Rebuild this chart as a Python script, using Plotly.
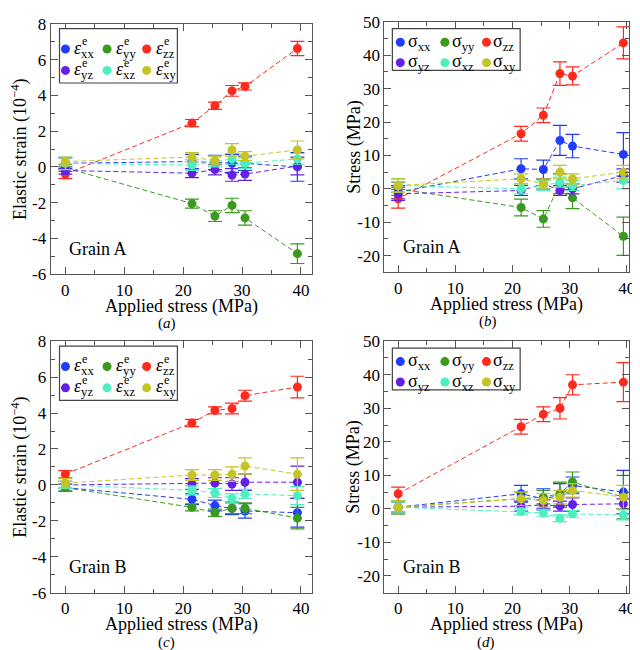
import plotly.graph_objects as go

# ---------------- data ----------------
applied = [0, 21.5, 25.4, 28.3, 30.5, 39.4]
components = ["xx", "yy", "zz", "yz", "xz", "xy"]
colors = {"xx": "#1f3cff", "yy": "#3a9a1e", "zz": "#ff2a1e",
          "yz": "#6420e6", "xz": "#4cf0c0", "xy": "#c4c426"}

# Grain A elastic strain (1e-4)
strainA = {
    "xx": [0.2, 0.3, 0.25, 0.2, 0.2, 0.0],
    "yy": [-0.05, -2.05, -2.75, -2.15, -2.85, -4.85],
    "zz": [-0.4, 2.45, 3.42, 4.25, 4.5, 6.62],
    "yz": [-0.2, -0.35, -0.15, -0.45, -0.4, 0.05],
    "xz": [0.2, 0.1, 0.3, 0.45, 0.2, 0.45],
    "xy": [0.3, 0.55, 0.35, 0.95, 0.6, 0.95],
}
strainA_err = {
    "xx": [0.3, 0.4, 0.4, 0.5, 0.4, 0.8],
    "yy": [0.2, 0.25, 0.3, 0.4, 0.4, 0.55],
    "zz": [0.25, 0.2, 0.2, 0.3, 0.2, 0.4],
    "yz": [0.2, 0.25, 0.3, 0.35, 0.35, 0.5],
    "xz": [0.35, 0.3, 0.3, 0.3, 0.3, 0.3],
    "xy": [0.25, 0.25, 0.25, 0.35, 0.25, 0.5],
}
# Grain A stress (MPa)
stressA = {
    "xx": [-1.0, 6.0, 5.8, 14.5, 12.8, 10.3],
    "yy": [0.0, -5.6, -9.0, 1.5, -2.7, -14.2],
    "zz": [-3.0, 16.5, 22.0, 34.5, 33.8, 43.7],
    "yz": [-1.5, -0.5, 1.5, -0.5, 0.0, 4.0],
    "xz": [1.0, 0.0, 1.0, 2.0, 1.0, 2.5],
    "xy": [1.0, 3.0, 1.5, 5.0, 3.0, 5.0],
}
stressA_err = {
    "xx": [2.0, 3.0, 2.8, 4.5, 3.5, 6.5],
    "yy": [2.0, 2.5, 2.5, 3.0, 3.2, 5.7],
    "zz": [2.8, 2.2, 2.2, 3.5, 2.7, 4.8],
    "yz": [2.0, 1.5, 1.5, 1.5, 1.5, 2.0],
    "xz": [2.0, 1.5, 1.5, 1.5, 1.5, 2.5],
    "xy": [2.0, 1.5, 1.5, 2.0, 1.5, 2.0],
}
# Grain B elastic strain (1e-4)
strainB = {
    "xx": [-0.15, -0.8, -1.15, -1.3, -1.45, -1.55],
    "yy": [-0.15, -1.25, -1.55, -1.3, -1.3, -1.85],
    "zz": [0.6, 3.45, 4.15, 4.25, 4.97, 5.45],
    "yz": [0.0, 0.05, 0.1, 0.05, 0.15, 0.15],
    "xz": [0.0, -0.3, -0.45, -0.75, -0.5, -0.6],
    "xy": [0.1, 0.55, 0.55, 0.6, 1.05, 0.6],
}
strainB_err = {
    "xx": [0.2, 0.3, 0.3, 0.35, 0.4, 0.8],
    "yy": [0.2, 0.2, 0.2, 0.3, 0.3, 0.6],
    "zz": [0.2, 0.2, 0.2, 0.3, 0.3, 0.6],
    "yz": [0.2, 0.3, 0.3, 0.35, 0.45, 0.9],
    "xz": [0.2, 0.25, 0.25, 0.25, 0.25, 0.5],
    "xy": [0.25, 0.3, 0.3, 0.4, 0.45, 0.9],
}
# Grain B stress (MPa)
stressB = {
    "xx": [0.5, 4.5, 3.0, 4.0, 7.0, 5.0],
    "yy": [0.5, 3.0, 3.5, 4.5, 8.0, 3.5],
    "zz": [4.5, 24.5, 28.2, 30.0, 37.0, 37.8],
    "yz": [0.5, 0.8, 1.2, 0.8, 1.3, 1.5],
    "xz": [0.5, -0.8, -1.2, -2.8, -1.5, -1.8],
    "xy": [0.5, 3.0, 2.5, 3.5, 5.5, 3.5],
}
stressB_err = {
    "xx": [2.0, 2.5, 3.0, 3.5, 2.5, 6.5],
    "yy": [2.0, 2.0, 2.0, 3.5, 3.0, 6.5],
    "zz": [2.0, 2.2, 2.2, 3.2, 3.0, 5.8],
    "yz": [1.5, 1.5, 1.5, 1.5, 2.0, 1.5],
    "xz": [1.5, 1.0, 1.0, 1.0, 1.0, 1.5],
    "xy": [2.0, 2.0, 2.0, 2.0, 2.0, 3.5],
}

x_ticks = [0, 10, 20, 30, 40]
strain_ticks = [-6, -4, -2, 0, 2, 4, 6, 8]
stress_ticks = [-20, -10, 0, 10, 20, 30, 40, 50]

# ---------------- layout helpers ----------------
W, H = 640, 650
FONT = "Liberation Serif, Times New Roman, serif"


def px(x):
    return x / W


def py(y):
    return 1 - y / H


# panel boxes in pixels: (left, top, right, bottom)
panels = [
    dict(key="a", box=(43, 7, 307, 265), data=strainA, err=strainA_err, kind="strain",
         grain="Grain A", xr=[-2.5, 41.9], lab_x=160),
    dict(key="b", box=(380, 5, 627, 263), data=stressA, err=stressA_err, kind="stress",
         grain="Grain A", xr=[-2.4, 40.4], lab_x=485),
    dict(key="c", box=(43, 334, 307, 593), data=strainB, err=strainB_err, kind="strain",
         grain="Grain B", xr=[-2.5, 41.9], lab_x=160),
    dict(key="d", box=(380, 334, 627, 593), data=stressB, err=stressB_err, kind="stress",
         grain="Grain B", xr=[-2.4, 40.4], lab_x=483),
]

fig = go.Figure()
annotations = []
shapes = []
layout_axes = {}

for i, p in enumerate(panels):
    n = i + 1
    xa = "x" if n == 1 else f"x{n}"
    ya = "y" if n == 1 else f"y{n}"
    L, T, R, B = p["box"]
    for c in components:
        fig.add_trace(go.Scatter(
            x=applied, y=p["data"][c], xaxis=xa, yaxis=ya,
            mode="lines+markers", showlegend=False,
            line=dict(color=colors[c], width=1, dash="5px,3px"),
            marker=dict(color=colors[c], size=9, line=dict(width=0)),
            error_y=dict(type="data", array=p["err"][c], visible=True,
                         color=colors[c], thickness=1.2, width=7),
        ))
    if p["kind"] == "strain":
        yr = [-6, 8]
        ytv = strain_ticks
        ydt = 1
        ytitle = "Elastic strain (10<sup>−4</sup>)"
    else:
        yr = [-25, 50]
        ytv = stress_ticks
        ydt = 5
        ytitle = "Stress (MPa)"
    common = dict(showline=True, mirror="allticks", linecolor="#555555", linewidth=1,
                  ticks="inside", ticklen=7, tickcolor="#555555", tickwidth=1,
                  showgrid=False, zeroline=False,
                  tickfont=dict(family=FONT, size=17, color="black"))
    layout_axes["xaxis" if n == 1 else f"xaxis{n}"] = dict(
        domain=[px(L), px(R)], anchor=ya, range=p["xr"],
        tickvals=x_ticks, ticktext=[str(v) for v in x_ticks],
        minor=dict(ticks="inside", ticklen=4, dtick=5, tickcolor="#555555"),
        **common)
    layout_axes["yaxis" if n == 1 else f"yaxis{n}"] = dict(
        domain=[py(B), py(T)], anchor=xa, range=yr,
        tickvals=ytv, ticktext=[str(v) for v in ytv],
        minor=dict(ticks="inside", ticklen=4, dtick=ydt, tickcolor="#555555"),
        **common)

    # axis titles, panel label, grain label
    annotations.append(dict(text="Applied stress (MPa)", x=px((L + R) / 2), y=py(B + 33),
                            xref="paper", yref="paper", showarrow=False,
                            font=dict(family=FONT, size=18, color="black"),
                            xanchor="center", yanchor="middle"))
    annotations.append(dict(text=ytitle, x=px(L - 31), y=py((T + B) / 2),
                            xref="paper", yref="paper", showarrow=False, textangle=-90,
                            font=dict(family=FONT, size=18, color="black"),
                            xanchor="center", yanchor="middle"))
    annotations.append(dict(text=f"(<i>{p['key']}</i>)", x=px(p["lab_x"]), y=py(B + 51),
                            xref="paper", yref="paper", showarrow=False,
                            font=dict(family=FONT, size=15, color="black"),
                            xanchor="center", yanchor="middle"))
    annotations.append(dict(text=p["grain"], x=px(L + 17), y=py(B - 26),
                            xref="paper", yref="paper", showarrow=False,
                            font=dict(family=FONT, size=18, color="black"),
                            xanchor="left", yanchor="middle"))

    # legend box (3 columns x 2 rows)
    if p["kind"] == "strain":
        bx0, by0, bx1, by1 = 9, 5, 128, 61
        rows = [26, 48]
        mx = [15, 57, 97]
        tx = [23, 65, 105]
        sym = "<i>ε</i>"
    else:
        bx0, by0, bx1, by1 = 8, 7, 137, 50
        rows = [21, 42]
        mx = [16, 61, 103]
        tx = [23, 67, 109]
        sym = "σ"
    shapes.append(dict(type="rect", xref="paper", yref="paper",
                       x0=px(L + bx0), x1=px(L + bx1), y0=py(T + by1), y1=py(T + by0),
                       line=dict(color="#444444", width=1.2), fillcolor="white", layer="above"))
    for k, c in enumerate(components):
        r = k // 3
        col = k % 3
        cy = T + rows[r]
        shapes.append(dict(type="circle", xref="paper", yref="paper",
                           xsizemode="pixel", ysizemode="pixel",
                           xanchor=px(L + mx[col]), yanchor=py(cy),
                           x0=-4.5, x1=4.5, y0=-4.5, y1=4.5,
                           line=dict(width=0), fillcolor=colors[c], layer="above"))
        annotations.append(dict(text=f"{sym}<sub>{c}</sub>", x=px(L + tx[col]), y=py(cy),
                                xref="paper", yref="paper", showarrow=False,
                                font=dict(family=FONT, size=18, color="black"),
                                xanchor="left", yanchor="middle", borderpad=0))
        if p["kind"] == "strain":
            annotations.append(dict(text="e", x=px(L + tx[col] + 8), y=py(cy - 8),
                                    xref="paper", yref="paper", showarrow=False,
                                    font=dict(family=FONT, size=12, color="black"),
                                    xanchor="left", yanchor="middle", borderpad=0))

fig.update_layout(
    width=W, height=H, margin=dict(l=0, r=0, t=0, b=0),
    paper_bgcolor="white", plot_bgcolor="white",
    showlegend=False, annotations=annotations, shapes=shapes,
    font=dict(family=FONT, color="black"),
    **layout_axes,
)

fig.write_html("out.html")
